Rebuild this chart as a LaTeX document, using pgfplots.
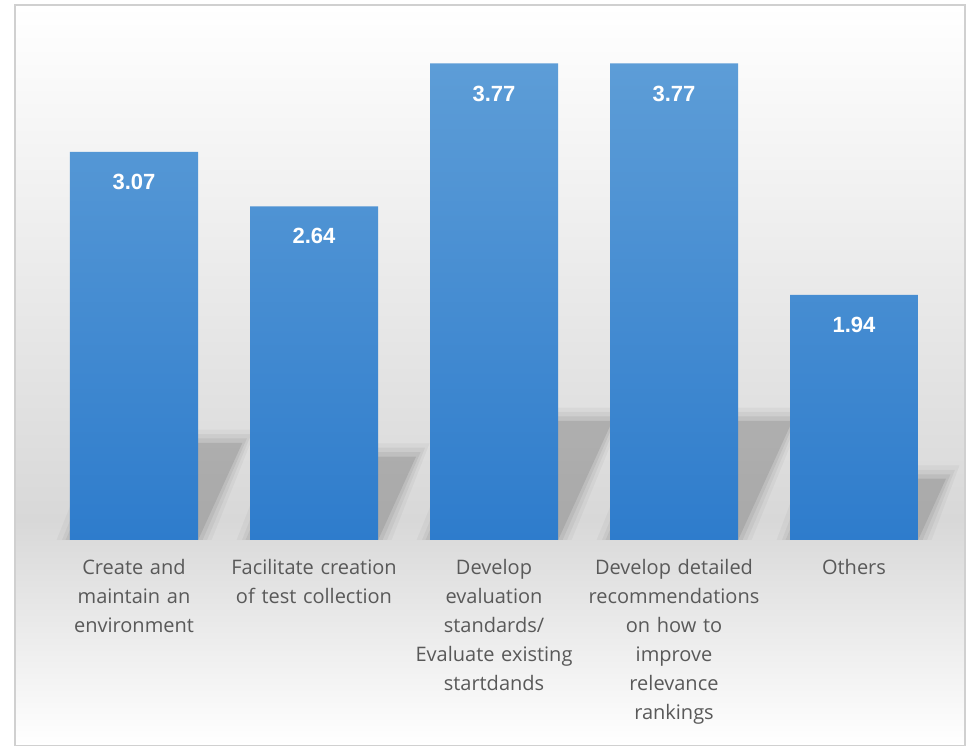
\documentclass[border=0pt]{standalone}
\usepackage{pgfplots}
\pgfplotsset{compat=1.18}
\usepackage{fontspec}
\setmainfont{Open Sans}
\newfontfamily\valfont{Liberation Sans}
\definecolor{barTop}{RGB}{93,157,215}
\definecolor{barBot}{RGB}{46,124,204}
\definecolor{bgGray}{RGB}{216,216,216}
\definecolor{lblGray}{RGB}{89,89,89}
\definecolor{frameGray}{RGB}{208,208,208}
\begin{document}
\begin{tikzpicture}
\useasboundingbox (0,0) rectangle (731.25pt,559.5pt);
\shade[top color=white, bottom color=bgGray] (11.25pt,169.5pt) rectangle (723.75pt,555.75pt);
\shade[top color=bgGray, bottom color=white] (11.25pt,0.5pt) rectangle (723.75pt,169.5pt);
\draw[frameGray, line width=0.8pt] (11.25pt,0.5pt) rectangle (723.75pt,555.75pt);
\begin{axis}[
  at={(33pt,154.5pt)}, anchor=south west,
  scale only axis, width=675pt, height=379.2pt,
  xmin=-0.5, xmax=4.5, ymin=0, ymax=4,
  axis line style={draw=none},
  major tick length=0pt,
  ytick=\empty,
  xtick={0,1,2,3,4},
  xticklabels={{Create and\\maintain an\\environment},
               {Facilitate creation\\of test collection},
               {Develop\\evaluation\\standards/\\Evaluate existing\\startdands},
               {Develop detailed\\recommendations\\on how to\\improve\\relevance\\rankings},
               {Others}},
  xticklabel style={align=center, text width=140pt, text=lblGray,
    font=\fontsize{15}{21.75}\selectfont, yshift=-11pt},
  /pgf/number format/assume math mode=true,
  clip=false,
]
% soft perspective shadows (four layers each)
\pgfplotsset{
  shcore/.style={draw=none, fill=black, fill opacity=0.09, forget plot},
  shmid/.style={draw=none, fill=black, fill opacity=0.06, forget plot},
  shout/.style={draw=none, fill=black, fill opacity=0.045, forget plot},
  shfar/.style={draw=none, fill=black, fill opacity=0.035, forget plot}}
\addplot[shfar] coordinates {(-0.43,0) (0.431,0) (0.677,0.873) (-0.185,0.873)} -- cycle;
\addplot[shout] coordinates {(-0.40,0) (0.406,0) (0.652,0.838) (-0.16,0.838)} -- cycle;
\addplot[shmid] coordinates {(-0.38,0) (0.381,0) (0.627,0.803) (-0.135,0.803)} -- cycle;
\addplot[shcore] coordinates {(-0.356,0) (0.356,0) (0.602,0.768) (-0.110,0.768)} -- cycle;
\addplot[shfar] coordinates {(0.57,0) (1.431,0) (1.642,0.765) (0.78,0.765)} -- cycle;
\addplot[shout] coordinates {(0.60,0) (1.406,0) (1.617,0.730) (0.805,0.730)} -- cycle;
\addplot[shmid] coordinates {(0.62,0) (1.381,0) (1.592,0.695) (0.83,0.695)} -- cycle;
\addplot[shcore] coordinates {(0.644,0) (1.356,0) (1.567,0.660) (0.855,0.660)} -- cycle;
\addplot[shfar] coordinates {(1.57,0) (2.431,0) (2.733,1.048) (1.871,1.048)} -- cycle;
\addplot[shout] coordinates {(1.60,0) (2.406,0) (2.708,1.013) (1.896,1.013)} -- cycle;
\addplot[shmid] coordinates {(1.62,0) (2.381,0) (2.683,0.978) (1.921,0.978)} -- cycle;
\addplot[shcore] coordinates {(1.644,0) (2.356,0) (2.658,0.943) (1.946,0.943)} -- cycle;
\addplot[shfar] coordinates {(2.57,0) (3.431,0) (3.733,1.048) (2.871,1.048)} -- cycle;
\addplot[shout] coordinates {(2.60,0) (3.406,0) (3.708,1.013) (2.896,1.013)} -- cycle;
\addplot[shmid] coordinates {(2.62,0) (3.381,0) (3.683,0.978) (2.921,0.978)} -- cycle;
\addplot[shcore] coordinates {(2.644,0) (3.356,0) (3.658,0.943) (2.946,0.943)} -- cycle;
\addplot[shfar] coordinates {(3.57,0) (4.431,0) (4.586,0.590) (3.724,0.590)} -- cycle;
\addplot[shout] coordinates {(3.60,0) (4.406,0) (4.561,0.555) (3.749,0.555)} -- cycle;
\addplot[shmid] coordinates {(3.62,0) (4.381,0) (4.536,0.520) (3.774,0.520)} -- cycle;
\addplot[shcore] coordinates {(3.644,0) (4.356,0) (4.511,0.485) (3.799,0.485)} -- cycle;
% bars
\addplot[ybar, bar width=96pt, draw=none, top color=barTop, bottom color=barBot,
  nodes near coords={\pgfmathprintnumber[fixed,fixed zerofill,precision=2]{\pgfplotspointmeta}},
  nodes near coords style={anchor=center, yshift=-22.5pt, text=white,
    font=\valfont\bfseries\fontsize{16.5}{18}\selectfont}]
  coordinates {(0,3.07) (1,2.64) (2,3.77) (3,3.77) (4,1.94)};
\end{axis}
\end{tikzpicture}
\end{document}
